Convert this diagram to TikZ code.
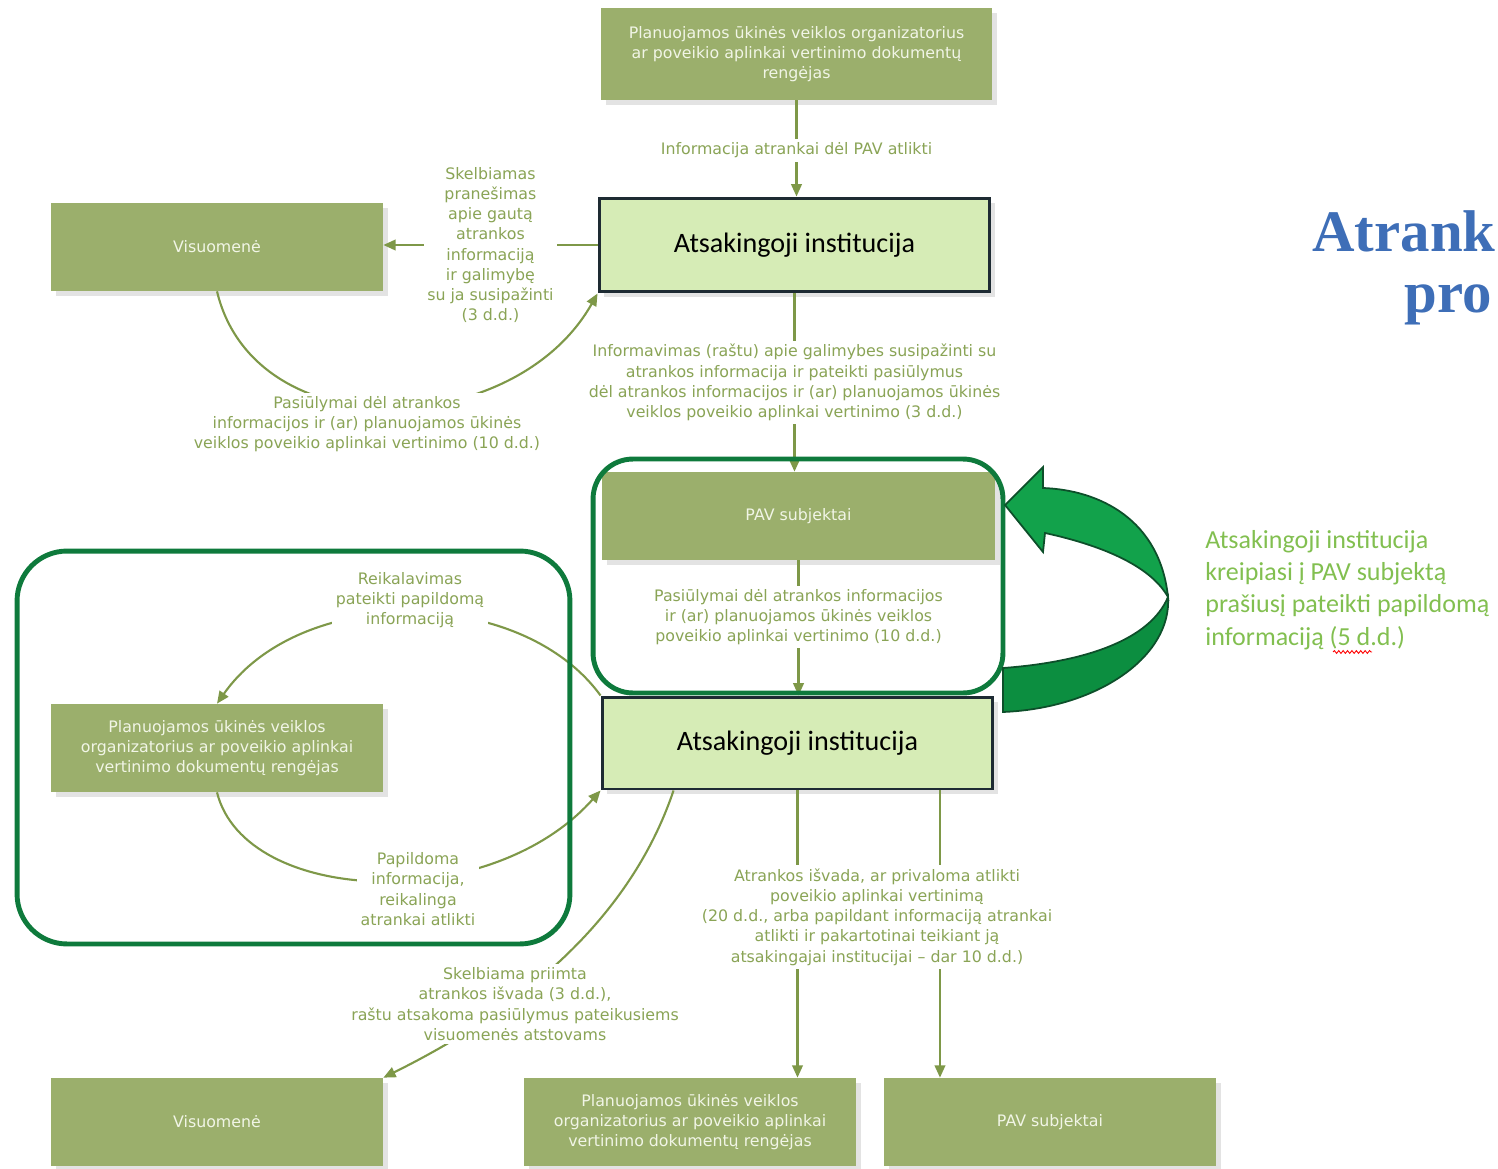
\documentclass[tikz,border=0pt]{standalone}
\usepackage{fontspec}
\setmainfont{DejaVu Sans}
\newfontfamily\calfont{Carlito}
\newfontfamily\titlefont{Liberation Serif}
\usetikzlibrary{arrows.meta,shadows,calc,decorations.pathmorphing}

\definecolor{oboxfill}{HTML}{9BAF6C}
\definecolor{boxtext}{HTML}{F1F5E6}
\definecolor{atsfill}{HTML}{D6ECB6}
\definecolor{atsdraw}{HTML}{1E2B33}
\definecolor{conncol}{HTML}{7E9848}
\definecolor{lbltext}{HTML}{8AA456}
\definecolor{grpgreen}{HTML}{0E7A3C}
\definecolor{bigarrow}{HTML}{12A24B}
\definecolor{bigarrowdark}{HTML}{0C8E40}
\definecolor{arrowedge}{HTML}{0D4F2A}
\definecolor{titleblue}{HTML}{3E6EB7}
\definecolor{sidetext}{HTML}{82BF50}

\begin{document}
\begin{tikzpicture}[x=0.02cm,y=-0.02cm,
  obox/.style={rectangle, fill=oboxfill, text=boxtext, font=\fontsize{9}{11.5}\selectfont,
    align=center, minimum width=6.64cm, minimum height=1.76cm, inner sep=2pt,
    drop shadow={shadow xshift=3pt, shadow yshift=-3pt, opacity=0.22}},
  ats/.style={rectangle, fill=atsfill, draw=atsdraw, line width=1.7pt, text=black,
    font=\calfont\fontsize{16}{19}\selectfont, minimum width=7.82cm, inner sep=2pt,
    drop shadow={shadow xshift=3pt, shadow yshift=-3pt, opacity=0.22}},
  cline/.style={draw=conncol, line width=1.2pt},
  arr/.style={cline, -{Triangle[length=7pt,width=6pt]}},
  lbl/.style={fill=white, text=lbltext, font=\fontsize{9}{11.5}\selectfont, align=center, inner sep=2pt},
  grp/.style={rectangle, draw=grpgreen, line width=2.8pt},
]
\useasboundingbox (0,0) rectangle (1498,1169);
\clip (0,0) rectangle (1498,1169);

% boxes
\node[obox, minimum width=7.82cm, minimum height=1.84cm] (top) at (796.5,54)
  {Planuojamos ūkinės veiklos organizatorius\\ar poveikio aplinkai vertinimo dokumentų\\rengėjas};
\node[ats, minimum height=1.88cm] (ats1) at (794.5,245) {Atsakingoji institucija};
\node[obox] (vis1) at (217,247) {Visuomenė};
\node[obox, minimum width=7.86cm] (pav1) at (798.5,516) {PAV subjektai};
\node[ats, minimum height=1.84cm] (ats2) at (797.5,743) {Atsakingoji institucija};
\node[obox] (plan2) at (217,748)
  {Planuojamos ūkinės veiklos\\organizatorius ar poveikio aplinkai\\vertinimo dokumentų rengėjas};
\node[obox] (vis2) at (217,1122) {Visuomenė};
\node[obox] (plan3) at (690,1122)
  {Planuojamos ūkinės veiklos\\organizatorius ar poveikio aplinkai\\vertinimo dokumentų rengėjas};
\node[obox] (pav3) at (1050,1122) {PAV subjektai};

% connectors
\draw[arr] (top.south) -- node[lbl, pos=0.52] (lblA) {Informacija atrankai dėl PAV atlikti} (top.south |- ats1.north);
\draw[arr] (ats1.west) -- node[lbl] (lblS)
  {Skelbiamas\\pranešimas\\apie gautą\\atrankos\\informaciją\\ir galimybę\\su ja susipažinti\\(3 d.d.)}
  (ats1.west -| vis1.east);
\draw[arr] (vis1.south) .. controls (255,450) and (515,440) .. (ats1.south west);
\node[lbl] (lblB) at (367,424)
  {Pasiūlymai dėl atrankos\\informacijos ir (ar) planuojamos ūkinės\\veiklos poveikio aplinkai vertinimo (10 d.d.)};
\draw[arr] (ats1.south) -- node[lbl] (lblC)
  {Informavimas (raštu) apie galimybes susipažinti su\\atrankos informacija ir pateikti pasiūlymus\\dėl atrankos informacijos ir (ar) planuojamos ūkinės\\veiklos poveikio aplinkai vertinimo (3 d.d.)}
  (ats1.south |- pav1.north);
\draw[arr] (pav1.south) -- node[lbl, pos=0.42] (lblD)
  {Pasiūlymai dėl atrankos informacijos\\ir (ar) planuojamos ūkinės veiklos\\poveikio aplinkai vertinimo (10 d.d.)}
  (pav1.south |- ats2.north);
\draw[arr] (ats2.north west) .. controls (520,585) and (300,585) .. (plan2.north);
\node[lbl] (lblE) at (410,600) {Reikalavimas\\pateikti papildomą\\informaciją};
\draw[arr] (plan2.south) .. controls (245,905) and (490,915) .. (ats2.south west);
\node[lbl] (lblF) at (418,889) {Papildoma\\informacija,\\reikalinga\\atrankai atlikti};
\coordinate (a2l) at ([xshift=1.46cm]ats2.south west);
\draw[arr] (a2l) .. controls (630,920) and (520,1010) .. (vis2.north east);
\node[lbl] (lblG) at (515,1004)
  {Skelbiama priimta\\atrankos išvada (3 d.d.),\\raštu atsakoma pasiūlymus pateikusiems\\visuomenės atstovams};
\draw[arr] (ats2.south) -- (ats2.south |- plan3.north);
\coordinate (a2r) at ([xshift=2.85cm]ats2.south);
\draw[arr] (a2r) -- (a2r |- pav3.north);
\node[lbl] (lblH) at (877,917)
  {Atrankos išvada, ar privaloma atlikti\\poveikio aplinkai vertinimą\\(20 d.d., arba papildant informaciją atrankai\\atlikti ir pakartotinai teikiant ją\\atsakingajai institucijai – dar 10 d.d.)};

% group frames
\node[grp, minimum width=8.2cm, minimum height=4.68cm, rounded corners=0.8cm] (grpPav) at (798,576) {};
\node[grp, minimum width=11.06cm, minimum height=7.86cm, rounded corners=1cm] (grpLeft) at (293.5,747.5) {};

% big curved arrow
\filldraw[fill=bigarrowdark, draw=arrowedge, line width=1pt]
  (1003,668) .. controls (1085,662) and (1150,640) .. (1168,597)
  .. controls (1172,655) and (1100,708) .. (1003,712) -- cycle;
\filldraw[fill=bigarrow, draw=arrowedge, line width=1pt]
  (1168,597) .. controls (1160,520) and (1100,490) .. (1043,488)
  -- (1043,467) -- (1005,505) -- (1043,552) -- (1045,533)
  .. controls (1100,545) and (1150,565) .. (1168,597) -- cycle;

% side text
\node[anchor=west, align=left, font=\calfont\fontsize{14.8}{18.4}\selectfont, text=sidetext, inner sep=0] (side)
  at (1205,590) {Atsakingoji institucija\\kreipiasi į PAV subjektą\\prašiusį pateikti papildomą\\informaciją (5 d.d.)};
\draw[red, line width=0.5pt, decorate, decoration={snake, amplitude=0.8pt, segment length=2.5pt}]
  (1333,652) -- (1372,652);

% title (as far as it is visible)
\node[anchor=base west, inner sep=0, text=titleblue, font=\titlefont\bfseries\fontsize{33.5}{40}\selectfont] (title1) at (1312,252) {Atrank};
\node[anchor=base west, inner sep=0, text=titleblue, font=\titlefont\bfseries\fontsize{33.5}{40}\selectfont] (title2) at (1404,313) {pro};
\end{tikzpicture}
\end{document}
